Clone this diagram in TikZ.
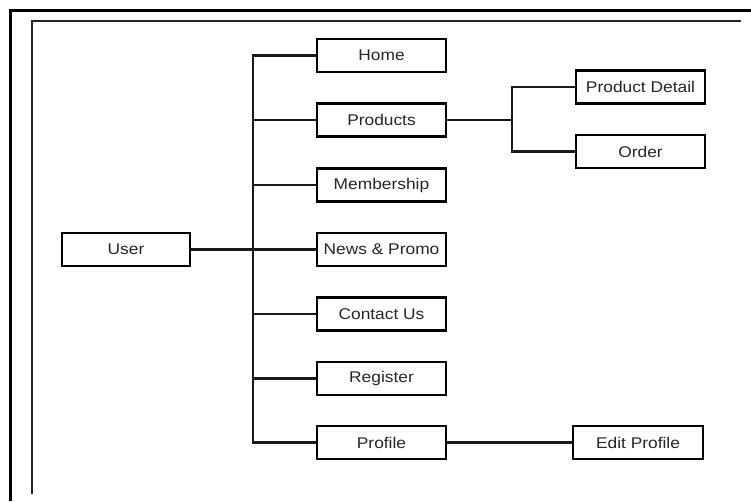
\documentclass[tikz,border=0pt]{standalone}
\usepackage{fontspec}
\setmainfont{Liberation Sans}[FakeStretch=1.12]
\begin{document}
\begin{tikzpicture}[x=1pt,y=-1pt,
  box/.style={draw=black,line width=2.2pt,fill=white,minimum height=33pt,inner sep=0pt,
    font=\fontsize{15.5pt}{17pt}\selectfont,text=black!85},
  sbox/.style={box,minimum width=129pt},
  conn/.style={line width=2.5pt,black!90},
  frame/.style={line width=3pt,black},
  iframe/.style={line width=2.5pt,black!85}]
\useasboundingbox (0,0) rectangle (751,501);
% frames
\draw[frame] (10,501) -- (10,10) -- (751,10);
\draw[iframe] (32,494) -- (32,21) -- (741,21);
% nodes
\node[box,minimum width=128pt] (user) at (126,249.5) {User};
\node[sbox] (home) at (381.5,55.5) {Home};
\node[sbox] (products) at (381.5,120) {Products};
\node[sbox] (member) at (381.5,185) {Membership};
\node[sbox] (news) at (381.5,249.5) {News \& Promo};
\node[sbox] (contact) at (381.5,314) {Contact Us};
\node[sbox] (register) at (381.5,378.5) {Register};
\node[sbox] (profile) at (381.5,442.5) {Profile};
\node[sbox] (detail) at (640.5,87) {Product Detail};
\node[sbox] (order) at (640.5,151.5) {Order};
\node[box,minimum width=130pt] (edit) at (638,442.5) {Edit Profile};
% connectors
\coordinate (tr) at (253,0);
\coordinate (br) at (512,0);
\draw[conn] (user.east) -- (news.west);
\draw[conn] (home.west) -- (home.west -| tr) -- (profile.west -| tr) -- (profile.west);
\foreach \n in {products,member,contact,register}
  \draw[conn] (\n.west) -- (\n.west -| tr);
\draw[conn] (products.east) -- (products.east -| br);
\draw[conn] (detail.west) -- (detail.west -| br) -- (order.west -| br) -- (order.west);
\draw[conn] (profile.east) -- (edit.west);
\end{tikzpicture}
\end{document}
